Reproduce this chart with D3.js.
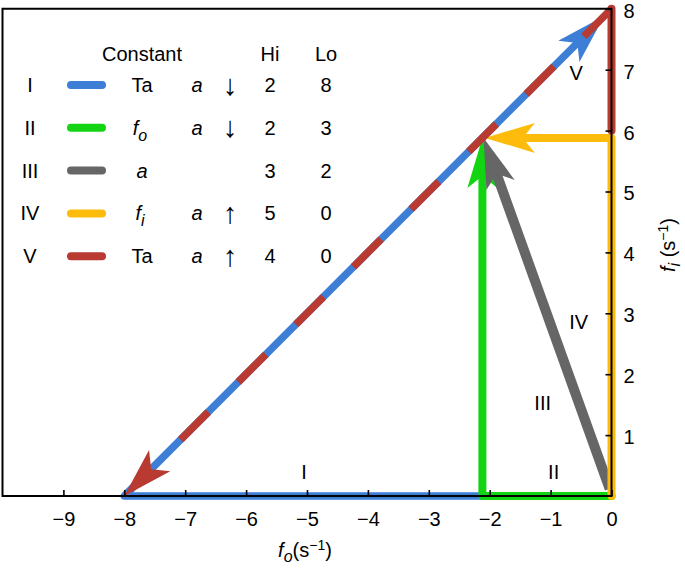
<!DOCTYPE html>
<html>
<head>
<meta charset="utf-8">
<script src="https://cdn.jsdelivr.net/npm/d3@7"></script>
<style>
  html, body { margin: 0; padding: 0; background: #fff; }
  svg { display: block; font-family: "Liberation Sans", Arial, Helvetica, sans-serif; }
</style>
</head>
<body>
<svg id="chart" width="685" height="574"></svg>
<script>
// ---------- data ----------
const xTicks = [-9, -8, -7, -6, -5, -4, -3, -2, -1, 0];
const yTicks = [1, 2, 3, 4, 5, 6, 7, 8];

// paths (f_o, f_i)
const pathI   = [[0, 0], [-8, 0], [-0.12, 7.88]];      // blue
const pathII  = [[0, 0], [-2.12, 0], [-2.12, 5.88]];   // green
const pathIII = [[-0.03, 0.12], [-2.1, 5.88]];         // gray
const pathIV  = [[0, 0], [0, 5.88], [-2.08, 5.88]];    // yellow
const pathVa  = [[0, 8], [0, 6]];                      // red vertical
const pathVb  = [[0, 8], [-8, 0]];                     // red dashed diagonal

// legend
const romans     = ["I", "II", "III", "IV", "V"];
const seriesCols = ["#3d7ed6", "#13d413", "#666666", "#fdbc0c", "#b83a30"];
const constants  = ["Ta", "fo", "a", "fi", "Ta"];
const hasA       = [true, true, false, true, true];
const directions = ["↓", "↓", "", "↑", "↑"];
const hiValues   = [2, 2, 3, 5, 4];
const loValues   = [8, 3, 2, 0, 0];

// in-plot labels: [text, fo, fi]
const plotLabels = [["I", -5.05, 0.4], ["II", -0.95, 0.4], ["III", -1.13, 1.52], ["IV", -0.54, 2.85], ["V", -0.58, 6.95]];

// ---------- layout ----------
const svg = d3.select("#chart");
const x = d3.scaleLinear().domain([-10, 0]).range([2.5, 611.5]);
const y = d3.scaleLinear().domain([0, 8]).range([496, 8.8]);
const FONT = 20;
const SUB = 16;
const HL = 50, HW = 15, HN = 12;

const [cBlue, cGreen, cGray, cYellow, cRed] = seriesCols;

function px(p) { return [x(p[0]), y(p[1])]; }

function arrow(points, color, width, opts = {}) {
  const pts = points.map(px);
  const n = pts.length;
  const tip = pts[n - 1], prev = pts[n - 2];
  const dx = tip[0] - prev[0], dy = tip[1] - prev[1];
  const len = Math.hypot(dx, dy);
  const ux = dx / len, uy = dy / len;
  const shaft = pts.slice();
  shaft[n - 1] = [tip[0] - ux * (HL - HN - 2), tip[1] - uy * (HL - HN - 2)];
  const g = svg.append("g");
  const line = g.append("path")
    .attr("d", d3.line()(opts.fullShaft ? pts : shaft))
    .attr("fill", "none")
    .attr("stroke", color)
    .attr("stroke-width", width)
    .attr("stroke-linejoin", "round")
    .attr("stroke-linecap", opts.cap || "round");
  if (opts.dash) line.attr("stroke-dasharray", opts.dash);
  if (!opts.noHead) {
    const nx = -uy, ny = ux;
    const bx = tip[0] - ux * HL, by = tip[1] - uy * HL;
    const head = [
      tip,
      [bx + nx * HW, by + ny * HW],
      [tip[0] - ux * (HL - HN), tip[1] - uy * (HL - HN)],
      [bx - nx * HW, by - ny * HW]
    ];
    g.append("path").attr("d", d3.line()(head) + "Z").attr("fill", color);
  }
  return g;
}

// ---------- data marks ----------
arrow(pathI, cBlue, 7.5);
arrow(pathII, cGreen, 8);
arrow(pathIII, cGray, 10, { cap: "butt" });
arrow(pathIV, cYellow, 8);
arrow(pathVa, cRed, 8, { noHead: true, fullShaft: true });
// red dashed diagonal (dashes over blue), then its head
(function () {
  const a = px(pathVb[0]), b = px(pathVb[1]);
  const L = Math.hypot(b[0] - a[0], b[1] - a[1]);
  const k = L / (a[0] - b[0]);           // along-line px per x-pixel
  const period = 57.6 * k, dash = 27.6 * k;
  arrow(pathVb, cRed, 7.5, { cap: "butt", dash: `${dash},${period - dash}` });
})();

// ---------- frame & axes ----------
const frame = svg.append("g").attr("stroke", "#000").attr("stroke-width", 2).attr("fill", "none");
frame.append("path").attr("d", `M${x(0)},${y(8)} H${x(-10)} V${y(0)} H${x(0)} Z`);

const xAxis = svg.append("g")
  .attr("transform", `translate(0,${y(0)})`)
  .call(d3.axisBottom(x).tickValues(xTicks).tickSize(-6).tickPadding(16));
const yAxis = svg.append("g")
  .attr("transform", `translate(${x(0)},0)`)
  .call(d3.axisRight(y).tickValues(yTicks).tickSize(-6).tickPadding(12));
[xAxis, yAxis].forEach(g => {
  g.select(".domain").remove();
  g.selectAll(".tick line").attr("stroke", "#000").attr("stroke-width", 1.6);
  g.selectAll(".tick text").attr("font-size", FONT).attr("fill", "#000")
    .attr("font-family", "Liberation Sans, Arial, sans-serif");
});
yAxis.selectAll(".tick text").attr("dy", "0.42em");

// axis titles
const xt = svg.append("text").attr("x", 305).attr("y", 557).attr("text-anchor", "middle")
  .attr("font-size", FONT).attr("fill", "#000");
xt.append("tspan").attr("font-style", "italic").text("f");
xt.append("tspan").attr("font-style", "italic").attr("font-size", SUB).attr("dy", 5).text("o");
xt.append("tspan").attr("dy", -5).text("(s");
xt.append("tspan").attr("font-size", 14).attr("dy", -7).text("−1");
xt.append("tspan").attr("dy", 7).text(")");

const yt = svg.append("text").attr("transform", "translate(675,245) rotate(-90)")
  .attr("text-anchor", "middle").attr("font-size", FONT).attr("fill", "#000");
yt.append("tspan").attr("font-style", "italic").text("f");
yt.append("tspan").attr("font-style", "italic").attr("font-size", SUB).attr("dy", 5).text("i");
yt.append("tspan").attr("dy", -5).text(" (s");
yt.append("tspan").attr("font-size", 14).attr("dy", -7).text("−1");
yt.append("tspan").attr("dy", 7).text(")");

// in-plot labels
svg.append("g").selectAll("text").data(plotLabels).join("text")
  .attr("x", d => x(d[1])).attr("y", d => y(d[2]) + 7)
  .attr("text-anchor", "middle").attr("font-size", FONT).attr("fill", "#000")
  .text(d => d[0]);

// ---------- legend ----------
const leg = svg.append("g").attr("font-size", FONT).attr("fill", "#000");
const rowY = i => 85 + i * 42.8;
const colX = { roman: 30, sw0: 71, sw1: 102, cons: 142, a: 197, dir: 230, hi: 270, lo: 326 };

leg.append("text").attr("x", colX.cons).attr("y", 61).attr("text-anchor", "middle").text("Constant");
leg.append("text").attr("x", colX.hi).attr("y", 61).attr("text-anchor", "middle").text("Hi");
leg.append("text").attr("x", colX.lo).attr("y", 61).attr("text-anchor", "middle").text("Lo");

romans.forEach((r, i) => {
  const yy = rowY(i), base = yy + 7;
  leg.append("text").attr("x", colX.roman).attr("y", base).attr("text-anchor", "middle").text(r);
  leg.append("line").attr("x1", colX.sw0).attr("x2", colX.sw1).attr("y1", yy).attr("y2", yy)
    .attr("stroke", seriesCols[i]).attr("stroke-width", 8).attr("stroke-linecap", "round");
  const c = constants[i];
  const t = leg.append("text").attr("x", colX.cons).attr("y", base).attr("text-anchor", "middle");
  if (c === "fo" || c === "fi") {
    t.attr("x", colX.cons - 2);
    t.append("tspan").attr("font-style", "italic").text("f");
    t.append("tspan").attr("font-style", "italic").attr("font-size", SUB).attr("dy", 6).text(c[1]);
  } else if (c === "a") {
    t.attr("font-style", "italic").text("a");
  } else {
    t.text(c);
  }
  if (hasA[i]) leg.append("text").attr("x", colX.a).attr("y", base).attr("text-anchor", "middle")
    .attr("font-style", "italic").text("a");
  if (directions[i]) leg.append("text").attr("x", colX.dir).attr("y", yy).attr("dy", "0.33em")
    .attr("text-anchor", "middle").attr("font-size", 29).attr("font-weight", 300)
    .text(directions[i]);
  leg.append("text").attr("x", colX.hi).attr("y", base).attr("text-anchor", "middle").text(hiValues[i]);
  leg.append("text").attr("x", colX.lo).attr("y", base).attr("text-anchor", "middle").text(loValues[i]);
});
</script>
</body>
</html>
